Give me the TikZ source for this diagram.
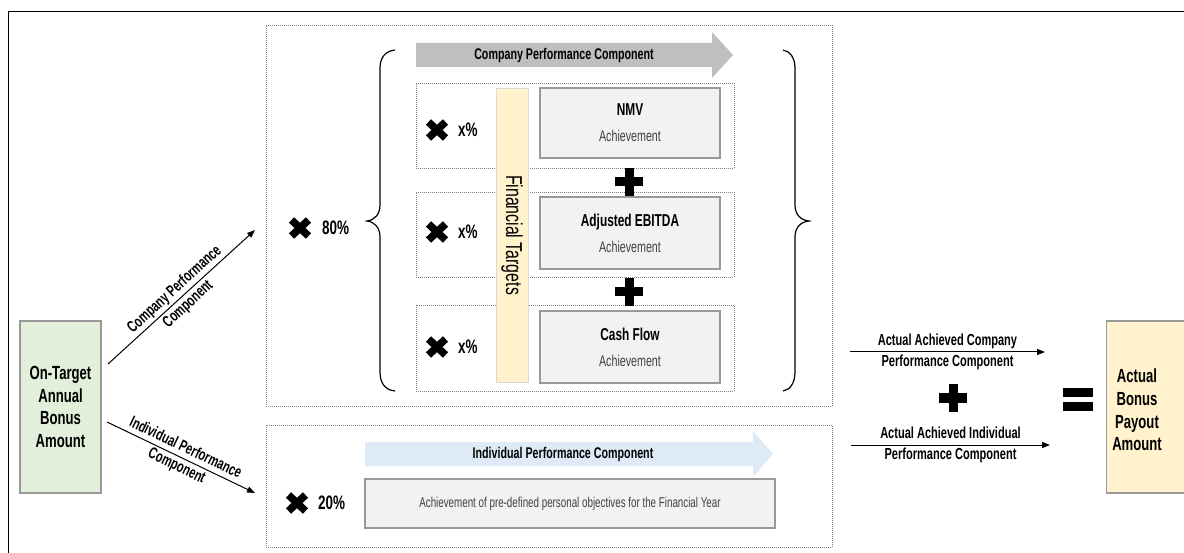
\documentclass[tikz,border=0pt]{standalone}
\usepackage{fontspec}
\setmainfont{Liberation Sans}[FakeStretch=0.69]
\usepackage{xcolor}
\usetikzlibrary{calc}
\usetikzlibrary{arrows.meta}

\definecolor{dotgrey}{HTML}{7F7F7F}
\definecolor{boxline}{HTML}{999999}
\definecolor{kpifill}{HTML}{F2F2F2}
\definecolor{arrowgrey}{HTML}{BFBFBF}
\definecolor{indblue}{HTML}{DEEBF7}
\definecolor{startgreen}{HTML}{E2EFDA}
\definecolor{payyellow}{HTML}{FFF2CC}
\definecolor{bargrey}{HTML}{D9D9D9}
\definecolor{softblack}{HTML}{404040}

\newcommand{\amountfont}{\fontsize{19}{22.6}\selectfont\bfseries}
\newcommand{\headfont}{\fontsize{15.5}{18}\selectfont\bfseries}
\newcommand{\kpifont}{\fontsize{17.2}{26}\selectfont\bfseries}
\newcommand{\achfont}{\fontsize{15.5}{17}\selectfont\mdseries\color{softblack}}
\newcommand{\pctfont}{\fontsize{19.5}{22}\selectfont\bfseries}
\newcommand{\flowfont}{\fontsize{16}{21}\selectfont\bfseries}
\newcommand{\slopefont}{\fontsize{16}{20}\selectfont\bfseries}

\begin{document}
\begin{tikzpicture}[x=1pt,y=-1pt,
        every node/.style={inner sep=0pt, align=center},
        >={Triangle[length=8pt,width=6pt]},
        dotbox/.style={draw=dotgrey, line width=0.8pt, dash pattern=on 1pt off 1pt},
        kpibox/.style={draw=boxline, fill=kpifill, line width=1.3pt, minimum width=180pt},
        amountbox/.style={draw=boxline, line width=1.3pt, minimum width=81pt, minimum height=172pt, font=\amountfont},
        bracestyle/.style={line width=1.2pt},
        flow/.style={line width=1pt},
        timesmark/.pic={\draw[line width=7.5pt] (-8.5,-8) -- (8.5,8) (-8.5,8) -- (8.5,-8);},
        plusmark/.pic={\fill (-14,-4.5) rectangle (14,4.5); \fill (-4.5,-14) rectangle (4.5,14);}]

        \useasboundingbox (0,0) rectangle (1184,553);

        % frame, open to the right and below
        \draw[line width=1.6pt] (8.5,553) -- (8.5,11.5) -- (1184,11.5);

        % the two component areas
        \node[dotbox, minimum width=566pt, minimum height=381pt] (company) at (549,215.5) {};
        \node[dotbox, minimum width=566pt, minimum height=122pt] (individual) at (549,486) {};

        % start and end amounts
        \node[amountbox, fill=startgreen] (target) at (60.5,407) {On-Target\\Annual\\Bonus\\Amount};
        \node[amountbox, fill=payyellow, minimum width=84pt, anchor=west] (payout) at (1106,407) {};
        \node[font=\amountfont] (payouttext) at (1137,410) {Actual\\Bonus\\Payout\\Amount};

        % company part
        \fill[arrowgrey] (416,43) -- (712,43) -- (712,32) -- (733,55) -- (712,78) -- (712,67) -- (416,67) -- cycle;
        \node[font=\headfont] (comphead) at (564,55) {Company Performance Component};

        \node[dotbox, minimum width=318pt, minimum height=85pt] (row1) at (575,125.5) {};
        \node[dotbox, minimum width=318pt, minimum height=85pt] (row2) at (575,234.5) {};
        \node[dotbox, minimum width=318pt, minimum height=86pt] (row3) at (575,348) {};

        \node[draw=bargrey, fill=payyellow, line width=0.8pt, rotate=-90, minimum width=294pt, minimum height=32pt,
              font=\fontsize{23}{26}\selectfont] (fin) at (512,235) {Financial Targets};

        \node[kpibox, minimum height=70pt, font=\kpifont] (nmv) at (630,123) {NMV\\{\achfont Achievement}};
        \node[kpibox, minimum height=72pt, font=\kpifont] (ebitda) at (630,233) {Adjusted EBITDA\\{\achfont Achievement}};
        \node[kpibox, minimum height=72pt, font=\kpifont] (cash) at (630,347) {Cash Flow\\{\achfont Achievement}};

        \pic at (629,182) {plusmark};
        \pic at (629,292) {plusmark};

        \pic at (437,130) {timesmark};
        \node[font=\pctfont, anchor=west] (w1) at (458,130) {x\%};
        \pic at (437,232) {timesmark};
        \node[font=\pctfont, anchor=west] (w2) at (458,232) {x\%};
        \pic at (437,347) {timesmark};
        \node[font=\pctfont, anchor=west] (w3) at (458,347) {x\%};

        \pic at (300,228) {timesmark};
        \node[font=\pctfont, anchor=west] (w80) at (322,228) {80\%};

        \draw[bracestyle] (395,50) .. controls (385,51) and (380,58) .. (380,68) -- (380,205)
              .. controls (380,214) and (375,220) .. (367,221) .. controls (375,222) and (380,228) .. (380,237)
              -- (380,372) .. controls (380,383) and (385,390) .. (395,391);
        \draw[bracestyle] (783,50) .. controls (790,51) and (795,58) .. (795,68) -- (795,205)
              .. controls (795,214) and (800,220) .. (809,221) .. controls (800,222) and (795,228) .. (795,237)
              -- (795,372) .. controls (795,383) and (790,390) .. (783,391);

        % individual part
        \fill[indblue] (365,442) -- (753,442) -- (753,431) -- (773,454) -- (753,477) -- (753,466) -- (365,466) -- cycle;
        \node[font=\headfont] (indhead) at (563,454) {Individual Performance Component};
        \node[kpibox, minimum width=410pt, minimum height=49pt, font=\fontsize{14.2}{16}\selectfont\color{softblack}]
              (objectives) at (570,503.5) {Achievement of pre-defined personal objectives for the Financial Year};

        \pic at (297,503) {timesmark};
        \node[font=\pctfont, anchor=west] (w20) at (318,503) {20\%};

        % result side
        \pic at (953,398) {plusmark};
        \fill (1063,388) rectangle (1093,397);
        \fill (1063,402) rectangle (1093,411);

        \coordinate (tc) at (108,364);
        \coordinate (ti) at (107,422);
        \coordinate (cin) at (255,230);
        \coordinate (iin) at (255,493);
        \coordinate (cout) at (850,352);
        \coordinate (cres) at (1045,352);
        \coordinate (iout) at (851,445);
        \coordinate (ires) at (1050,445);

        \path[->, flow]
        (tc) edge node[sloped, font=\slopefont] {Company Performance\\Component} (cin)
        (ti) edge node[sloped, font=\slopefont] {Individual Performance\\Component} (iin)
        (cout) edge node[font=\flowfont] {Actual Achieved Company\\Performance Component} (cres)
        (iout) edge node[font=\flowfont] {Actual Achieved Individual\\Performance Component} (ires);

      \end{tikzpicture}
\end{document}
